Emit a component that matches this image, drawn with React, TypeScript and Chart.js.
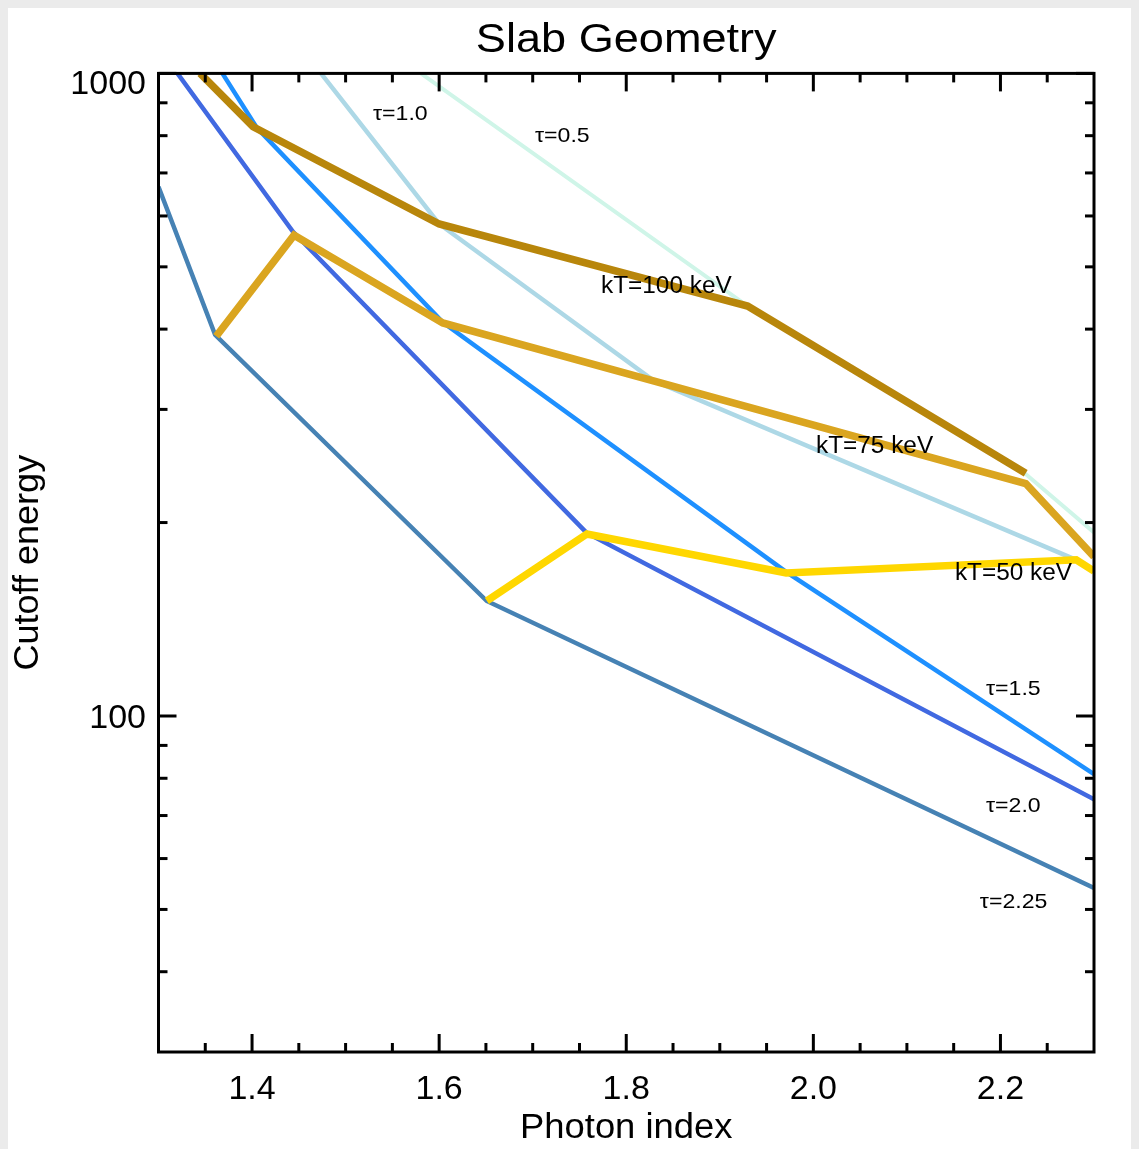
import { useEffect, useRef } from "react";
import { Chart, registerables } from "chart.js";

Chart.register(...registerables);

const FONT = '"Liberation Sans", Arial, Helvetica, sans-serif';

// ---- data (photon index, cutoff energy in keV) ----
const kT50X = [1.651, 1.758, 1.971, 2.281, 2.3];
const kT50Y = [151, 192, 167, 175, 168];
const kT75X = [1.3617, 1.4449, 1.6039, 1.83, 2.227, 2.3];
const kT75Y = [390, 560, 409, 332, 230, 177];
const kT100X = [1.3445, 1.4011, 1.6, 1.9297, 2.227];
const kT100Y = [1000, 826, 583, 434.5, 238.6];
const tau05X = [1.5805, 1.9297, 2.227, 2.3];
const tau05Y = [1000, 434.5, 238, 193];
const tau10X = [1.4737, 1.6, 1.83, 2.281];
const tau10Y = [1000, 583, 332, 175];
const tau15X = [1.3683, 1.4054, 1.6039, 1.9712, 2.3];
const tau15Y = [1000, 822, 410, 167.5, 81.2];
const tau20X = [1.3203, 1.4438, 1.7577, 2.3];
const tau20Y = [1000, 567, 192.7, 74.2];
const tau225X = [1.3, 1.3605, 1.6509, 2.3];
const tau225Y = [666, 392, 151, 54];

// ---- ticks ----
const xMajorTicks = [1.4, 1.6, 1.8, 2.0, 2.2];
const xTickLabels = ["1.4", "1.6", "1.8", "2.0", "2.2"];
const xMinorTicks = [1.35, 1.45, 1.5, 1.55, 1.65, 1.7, 1.75, 1.85, 1.9, 1.95, 2.05, 2.1, 2.15, 2.25];
const yMajorTicks = [100, 1000];
const yTickLabels = ["100", "1000"];
const yMinorTicks = [40, 50, 60, 70, 80, 90, 200, 300, 400, 500, 600, 700, 800, 900];

// ---- in-plot labels (anchor: left edge, baseline, in data coords) ----
const labelTexts = ["τ=1.0", "τ=0.5", "kT=100 keV", "kT=75 keV", "kT=50 keV", "τ=1.5", "τ=2.0", "τ=2.25"];
const labelX = [1.5292, 1.7024, 1.773, 2.0028, 2.1513, 2.1845, 2.1845, 2.178];
const labelY = [846, 782, 455, 256.6, 162.8, 107.8, 70.9, 50.2];

const TITLE = "Slab Geometry";
const X_TITLE = "Photon index";
const Y_TITLE = "Cutoff energy";

function drawText(
  ctx: CanvasRenderingContext2D,
  s: string,
  x: number,
  y: number,
  size: number,
  align: CanvasTextAlign,
  sx = 1,
  rot = 0
) {
  ctx.save();
  ctx.font = `${size}px ${FONT}`;
  ctx.textBaseline = "alphabetic";
  ctx.textAlign = align;
  ctx.fillStyle = "#000";
  ctx.translate(x, y);
  if (rot) ctx.rotate(rot);
  ctx.scale(sx, 1);
  ctx.fillText(s, 0, 0);
  ctx.restore();
}

const framePlugin = {
  id: "idlFrame",
  afterDatasetsDraw(chart: any) {
    const { ctx, chartArea: a, scales } = chart;
    const xs = scales.x;
    const ys = scales.y;
    ctx.save();
    ctx.strokeStyle = "#000";
    ctx.lineWidth = 3;
    ctx.lineCap = "butt";
    ctx.strokeRect(a.left, a.top, a.right - a.left, a.bottom - a.top);
    const seg = (x1: number, y1: number, x2: number, y2: number) => {
      ctx.beginPath();
      ctx.moveTo(x1, y1);
      ctx.lineTo(x2, y2);
      ctx.stroke();
    };
    const MAJ = 18;
    const MIN = 9;
    xMajorTicks.forEach((v) => {
      const p = xs.getPixelForValue(v);
      seg(p, a.bottom, p, a.bottom - MAJ);
      seg(p, a.top, p, a.top + MAJ);
    });
    xMinorTicks.forEach((v) => {
      const p = xs.getPixelForValue(v);
      seg(p, a.bottom, p, a.bottom - MIN);
      seg(p, a.top, p, a.top + MIN);
    });
    yMajorTicks.forEach((v) => {
      const p = ys.getPixelForValue(v);
      seg(a.left, p, a.left + MAJ, p);
      seg(a.right, p, a.right - MAJ, p);
    });
    yMinorTicks.forEach((v) => {
      const p = ys.getPixelForValue(v);
      seg(a.left, p, a.left + MIN, p);
      seg(a.right, p, a.right - MIN, p);
    });
    ctx.restore();

    // tick labels
    xMajorTicks.forEach((v, i) => {
      drawText(ctx, xTickLabels[i], xs.getPixelForValue(v), a.bottom + 47, 34, "center");
    });
    yMajorTicks.forEach((v, i) => {
      const p = ys.getPixelForValue(v);
      const base = Math.max(p + 12, a.top + 21);
      drawText(ctx, yTickLabels[i], a.left - 12.5, base, 34, "right");
    });

    // titles
    drawText(ctx, TITLE, (a.left + a.right) / 2, a.top - 21.4, 41, "center", 1.1);
    drawText(ctx, X_TITLE, (a.left + a.right) / 2, a.bottom + 86, 35, "center", 1.04);
    drawText(ctx, Y_TITLE, 30, (a.top + a.bottom) / 2, 35, "center", 1.03, -Math.PI / 2);

    // in-plot labels
    labelTexts.forEach((t, i) => {
      const isKT = t.startsWith("kT");
      drawText(
        ctx,
        t,
        xs.getPixelForValue(labelX[i]),
        ys.getPixelForValue(labelY[i]),
        isKT ? 23 : 21,
        "left",
        isKT ? 1.06 : 1.1
      );
    });
  },
};

function series(label: string, xsArr: number[], ysArr: number[], color: string, width: number) {
  return {
    label,
    data: xsArr.map((x, i) => ({ x, y: ysArr[i] })),
    borderColor: color,
    backgroundColor: color,
    borderWidth: width,
    pointRadius: 0,
    pointHoverRadius: 0,
    tension: 0,
    fill: false,
    clip: 0,
    borderJoinStyle: "miter" as const,
    borderCapStyle: "butt" as const,
  };
}

export default function App() {
  const ref = useRef<HTMLCanvasElement>(null);
  useEffect(() => {
    const canvas = ref.current;
    if (!canvas) return;
    const chart = new Chart(canvas, {
      type: "line",
      data: {
        datasets: [
          series("kT=50 keV", kT50X, kT50Y, "#FFD700", 7.5),
          series("kT=75 keV", kT75X, kT75Y, "#DAA520", 7.5),
          series("kT=100 keV", kT100X, kT100Y, "#B8860B", 7.5),
          series("τ=0.5", tau05X, tau05Y, "#CFF5E8", 4),
          series("τ=1.0", tau10X, tau10Y, "#ADD8E6", 4.5),
          series("τ=1.5", tau15X, tau15Y, "#1E90FF", 4.5),
          series("τ=2.0", tau20X, tau20Y, "#4169E1", 4.5),
          series("τ=2.25", tau225X, tau225Y, "#4682B4", 4.5),
        ] as any,
      },
      options: {
        animation: false,
        responsive: false,
        maintainAspectRatio: false,
        devicePixelRatio: 1,
        events: [],
        layout: { padding: { left: 0, right: 37, top: 65.4, bottom: 0 } },
        plugins: {
          legend: { display: false },
          tooltip: { enabled: false },
          title: { display: false },
        },
        scales: {
          x: {
            type: "linear",
            min: 1.3,
            max: 2.3,
            grid: { display: false },
            border: { display: false },
            ticks: { display: false },
            afterFit: (s: any) => {
              s.height = 97;
            },
          },
          y: {
            type: "logarithmic",
            min: 30,
            max: 1000,
            grid: { display: false },
            border: { display: false },
            ticks: { display: false },
            afterFit: (s: any) => {
              s.width = 150.5;
            },
          },
        },
      } as any,
      plugins: [framePlugin],
    });
    return () => chart.destroy();
  }, []);

  return (
    <div
      style={{
        position: "fixed",
        left: 0,
        top: 0,
        width: 1139,
        height: 1149,
        background: "#ebebeb",
      }}
    >
      <canvas
        ref={ref}
        width={1123}
        height={1141}
        style={{ position: "absolute", left: 8, top: 8, width: 1123, height: 1141, background: "#ffffff" }}
      />
    </div>
  );
}
